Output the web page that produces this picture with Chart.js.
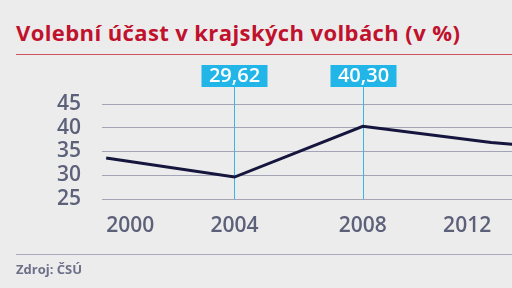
<!DOCTYPE html>
<html>
<head>
<meta charset="utf-8">
<script src="https://cdn.jsdelivr.net/npm/chart.js@4"></script>
<style>
  body { margin: 0; width: 512px; height: 288px; background: #ececec; overflow: hidden; position: relative; font-family: "Open Sans", sans-serif; }
  #title { position: absolute; left: 16px; top: 17px; font-size: 22px; font-weight: 700; letter-spacing: 0.4px; color: #c0112d; white-space: nowrap; }
  #titleLine { position: absolute; left: 16px; right: 0; top: 54px; height: 1px; background: #cf5461; }
  #footLine { position: absolute; left: 16px; right: 0; top: 254px; height: 1px; background: #a8aab9; }
  #source { position: absolute; left: 16px; top: 260px; font-size: 13px; font-weight: 700; color: #6c7089; }
  canvas { position: absolute; left: 0; top: 0; }
</style>
</head>
<body>
<div id="title">Volební účast v krajských volbách (v %)</div>
<div id="titleLine"></div>
<canvas id="chart" width="512" height="288"></canvas>
<div id="footLine"></div>
<div id="source">Zdroj: ČSÚ</div>
<script>
// volební účast po letech (2016 leží už mimo obrázek, čára jen odchází k okraji)
const years = [2000, 2004, 2008, 2012, 2016];
const turnout = [33.64, 29.62, 40.30, 36.89, 34.57];
const xTicks = [2000, 2004, 2008, 2012];
const yTicks = [25, 30, 35, 40, 45];
const calloutYears = [2004, 2008];
const calloutLabels = ['29,62', '40,30'];

const callouts = {
    id: 'callouts',
    beforeDatasetsDraw(chart) {
        const ctx = chart.ctx;
        const x = chart.scales.x;
        const area = chart.chartArea;
        ctx.save();
        calloutYears.forEach((year, i) => {
            const px = Math.round(x.getPixelForValue(year)) + 0.5;
            ctx.strokeStyle = '#35b8e6';
            ctx.lineWidth = 1;
            ctx.beginPath();
            ctx.moveTo(px, area.bottom);
            ctx.lineTo(px, 87);
            ctx.stroke();
            ctx.fillStyle = '#22b5e8';
            ctx.fillRect(px - 33, 65, 66, 22);
            ctx.fillStyle = '#ffffff';
            ctx.font = '600 20px "Open Sans"';
            ctx.textAlign = 'center';
            ctx.textBaseline = 'middle';
            ctx.fillText(calloutLabels[i], px, 76.5);
        });
        ctx.restore();
    }
};

new Chart(document.getElementById('chart'), {
    type: 'line',
    data: {
        datasets: [{
            data: years.map((y, i) => ({ x: y, y: turnout[i] })),
            borderColor: '#15153d',
            borderWidth: 3,
            pointRadius: 0,
            tension: 0
        }]
    },
    options: {
        responsive: false,
        animation: false,
        layout: { padding: { top: 104, right: 0, left: 0, bottom: 0 } },
        plugins: { legend: { display: false }, tooltip: { enabled: false } },
        scales: {
            x: {
                type: 'linear',
                min: 1999.87,
                max: 2012.65,
                afterBuildTicks: s => { s.ticks = xTicks.map(v => ({ value: v })); },
                afterFit: s => { s.height = 89; s.paddingLeft = 0; s.paddingRight = 0; },
                grid: { display: false },
                border: { display: false },
                ticks: {
                    padding: 6,
                    align: 'inner',
                    maxRotation: 0,
                    autoSkip: false,
                    color: '#5d6079',
                    font: { family: 'Open Sans', size: 21, weight: '600' },
                    callback: v => String(v)
                }
            },
            y: {
                min: 25,
                max: 45,
                afterBuildTicks: s => { s.ticks = yTicks.map(v => ({ value: v })); },
                afterFit: s => { s.width = 102; },
                grid: { color: '#a3a5b6', lineWidth: 1, drawTicks: false },
                border: { display: false },
                ticks: {
                    padding: 21,
                    autoSkip: false,
                    color: '#5d6079',
                    font: { family: 'Open Sans', size: 21, weight: '600' }
                }
            }
        }
    },
    plugins: [callouts]
});
</script>
</body>
</html>
